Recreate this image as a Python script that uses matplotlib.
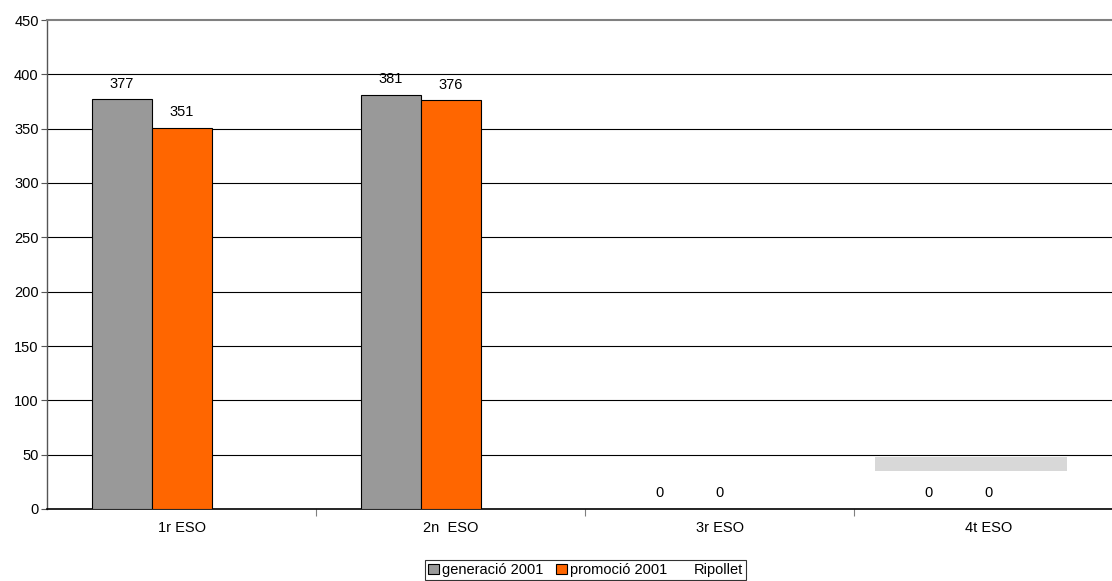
import matplotlib
matplotlib.use("Agg")
import matplotlib.pyplot as plt
import numpy as np
from matplotlib.patches import Rectangle

categories = ["1r ESO", "2n  ESO", "3r ESO", "4t ESO"]
generacio = [377, 381, 0, 0]
promocio = [351, 376, 0, 0]
ripollet = [0, 0, 0, 0]
yticks = [0, 50, 100, 150, 200, 250, 300, 350, 400, 450]

plt.rcParams['font.family'] = ['Liberation Sans', 'DejaVu Sans']

W, H = 1112, 581
fig = plt.figure(figsize=(W/100, H/100), dpi=100)
left = 47
unit = 269
right = left + 4*unit
top, bottom = 20, 509
ax = fig.add_axes([left/W, 1-bottom/H, (right-left)/W, (bottom-top)/H])

x = np.arange(len(categories))
bw = 60/269
ax.bar(x - bw, generacio, bw, color='#999999', edgecolor='black', linewidth=0.8, label='generació 2001', zorder=3)
ax.bar(x, promocio, bw, color='#ff6600', edgecolor='black', linewidth=0.8, label='promoció 2001', zorder=3)
ax.bar(x + bw, ripollet, bw, color='none', edgecolor='none', linewidth=0, label='Ripollet', zorder=3)

for xi, v in zip(x - bw, generacio):
    ax.text(xi, v + 8, str(v), ha='center', va='bottom', fontsize=10.5)
for xi, v in zip(x, promocio):
    ax.text(xi, v + 8, str(v), ha='center', va='bottom', fontsize=10.5)

ax.set_ylim(0, 450)
ax.set_xlim(-0.5, 3.5)
ax.set_yticks(yticks)
ax.set_yticklabels([str(t) for t in yticks], fontsize=10.5)
ax.set_xticks(x)
ax.set_xticklabels(categories, fontsize=10.5)
ax.tick_params(axis='x', length=0, pad=9)
ax.tick_params(axis='y', length=4, width=0.8, color='#555555', pad=2)
ax.set_xticks(np.arange(0.5, len(categories), 1), minor=True)
ax.tick_params(axis='x', which='minor', length=5, width=0.8, color='#808080')

for t in yticks[1:-1]:
    ax.axhline(t, color='black', linewidth=0.8, zorder=1)
ax.spines['top'].set_color('#808080')
ax.spines['top'].set_linewidth(1.5)
ax.spines['left'].set_color('#555555')
ax.spines['left'].set_linewidth(1.0)
ax.spines['bottom'].set_color('black')
ax.spines['bottom'].set_linewidth(1.2)
ax.spines['right'].set_visible(False)

leg = fig.legend(loc='center', bbox_to_anchor=(585.5/W, 1-570/H), ncol=3, fontsize=10.5,
                 frameon=True, fancybox=False, edgecolor='black', handlelength=0.75,
                 handleheight=0.75, handletextpad=0.2, columnspacing=0.9,
                 borderpad=0.2, borderaxespad=0.0)
leg.get_frame().set_linewidth(0.8)

fig.patches.append(Rectangle((875/W, 1-471/H), 192/W, 14/H, transform=fig.transFigure,
                             facecolor='#d8d8d8', edgecolor='none', zorder=5))

fig.savefig('out.png', dpi=100)
